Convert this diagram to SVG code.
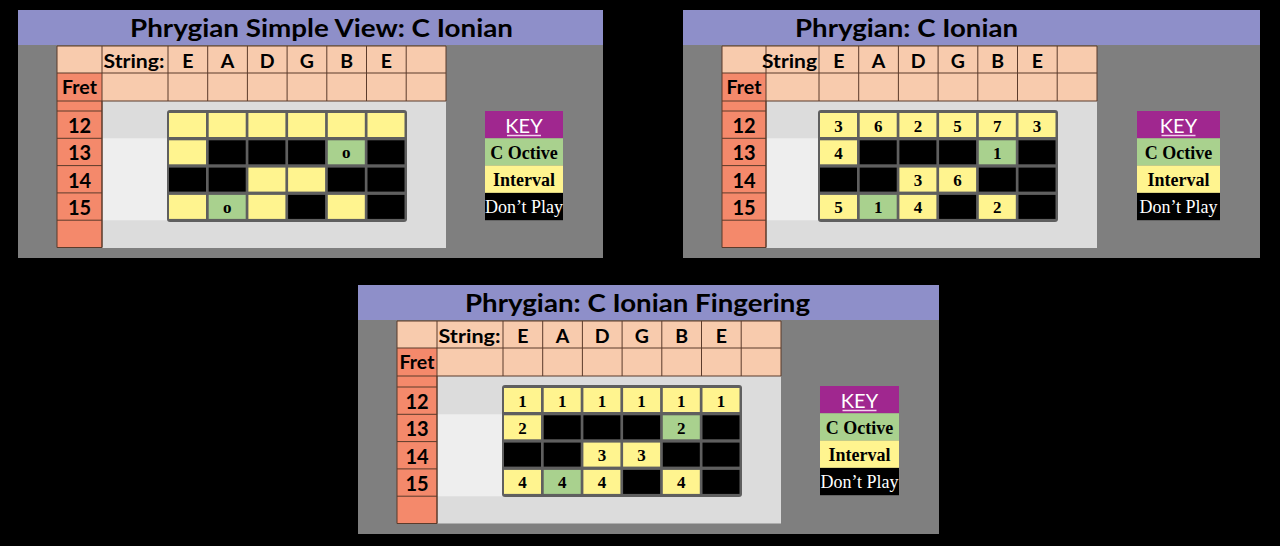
<svg xmlns="http://www.w3.org/2000/svg" width="1280" height="546" viewBox="0 0 1280 546">
<style>
.panel{fill:#7f7f7f}
.ttl{fill:#8e8fc9}
.hdr{fill:#f8cbad}
.fret{fill:#f4896b}
.lg{fill:#dcdcdc}
.band{fill:#eeeeee}
.ln{fill:none;stroke:#5b3b2b;stroke-width:1}
.frame{fill:#5f5f5f}
.y{fill:#fff48f}
.g{fill:#a9d18e}
.k{fill:#000}
.kp{fill:#a0278f}
.tt{font-family:Lato,"Liberation Sans",sans-serif;font-weight:bold;font-size:24px;fill:#000;text-anchor:middle}
.h{font-family:Lato,"Liberation Sans",sans-serif;font-weight:bold;font-size:19.5px;fill:#000;text-anchor:middle}
.n{font-family:Lato,"Liberation Sans",sans-serif;font-weight:bold;font-size:20px;fill:#000;text-anchor:middle}
.c{font-family:"Liberation Serif",serif;font-weight:bold;font-size:17px;fill:#000;text-anchor:middle}
.ks{font-family:"Liberation Serif",serif;font-weight:bold;font-size:18px;fill:#000;text-anchor:middle}
.kw{font-family:"Liberation Serif",serif;font-size:18px;fill:#fff;text-anchor:middle}
.kk{font-family:Lato,"Liberation Sans",sans-serif;font-size:20px;fill:#fff;text-anchor:middle}
.ul{stroke:#f4d0ee;stroke-width:1.5}
</style>
<rect width="1280" height="546" fill="#000"/>

<!-- Panel 1 -->
<g id="panel1">
<rect class="panel" x="18" y="10" width="585" height="248"/>
<rect class="ttl" x="18" y="10" width="585" height="35"/>
<text class="tt" x="321.5" y="37" textLength="383" lengthAdjust="spacingAndGlyphs">Phrygian Simple View: C Ionian</text>
<rect class="hdr" x="57" y="46" width="389" height="55"/>
<rect class="fret" x="57" y="73" width="45" height="28"/>
<rect class="fret" x="57" y="101" width="45" height="147"/>
<rect class="lg" x="102" y="101" width="344" height="147"/>
<rect class="band" x="102" y="138.3" width="65" height="82"/>
<path class="ln" d="M57,46H446V101H57Z M57,73H446 M57,101V247.5H102V101 M102,46V247.5 M168,46V101 M207.7,46V101 M247.4,46V101 M287.1,46V101 M326.8,46V101 M366.5,46V101 M406.2,46V101 M57,111H102 M57,138.3H102 M57,165.6H102 M57,192.9H102 M57,220.2H102"/>
<text class="h" x="134" y="68" textLength="61" lengthAdjust="spacingAndGlyphs">String:</text>
<text class="h" x="187.85" y="68">E</text>
<text class="h" x="227.55" y="68">A</text>
<text class="h" x="267.25" y="68">D</text>
<text class="h" x="306.95" y="68">G</text>
<text class="h" x="346.65" y="68">B</text>
<text class="h" x="386.35" y="68">E</text>
<text class="h" x="79.5" y="94">Fret</text>
<text class="n" x="79.5" y="133">12</text>
<text class="n" x="79.5" y="160.3">13</text>
<text class="n" x="79.5" y="187.6">14</text>
<text class="n" x="79.5" y="214.9">15</text>
<rect class="frame" x="167" y="110" width="240" height="112" rx="3"/>
<rect class="y" x="169" y="113" width="37" height="24"/>
<rect class="y" x="208.7" y="113" width="37" height="24"/>
<rect class="y" x="248.4" y="113" width="37" height="24"/>
<rect class="y" x="288.1" y="113" width="37" height="24"/>
<rect class="y" x="327.8" y="113" width="37" height="24"/>
<rect class="y" x="367.5" y="113" width="37" height="24"/>
<rect class="y" x="169" y="140.3" width="37" height="24"/>
<rect class="k" x="208.7" y="140.3" width="37" height="24"/>
<rect class="k" x="248.4" y="140.3" width="37" height="24"/>
<rect class="k" x="288.1" y="140.3" width="37" height="24"/>
<rect class="g" x="327.8" y="140.3" width="37" height="24"/>
<rect class="k" x="367.5" y="140.3" width="37" height="24"/>
<rect class="k" x="169" y="167.6" width="37" height="24"/>
<rect class="k" x="208.7" y="167.6" width="37" height="24"/>
<rect class="y" x="248.4" y="167.6" width="37" height="24"/>
<rect class="y" x="288.1" y="167.6" width="37" height="24"/>
<rect class="k" x="327.8" y="167.6" width="37" height="24"/>
<rect class="k" x="367.5" y="167.6" width="37" height="24"/>
<rect class="y" x="169" y="194.9" width="37" height="24"/>
<rect class="g" x="208.7" y="194.9" width="37" height="24"/>
<rect class="y" x="248.4" y="194.9" width="37" height="24"/>
<rect class="k" x="288.1" y="194.9" width="37" height="24"/>
<rect class="y" x="327.8" y="194.9" width="37" height="24"/>
<rect class="k" x="367.5" y="194.9" width="37" height="24"/>
<text class="c" x="346.3" y="158">o</text>
<text class="c" x="227.2" y="212.6">o</text>
</g>
<g id="key1">
<rect class="kp" x="485" y="111" width="78" height="27.3"/>
<rect class="g" x="485" y="138.3" width="78" height="27.3"/>
<rect class="y" x="485" y="165.6" width="78" height="27.3"/>
<rect class="k" x="485" y="192.9" width="78" height="27.3"/>
<text class="kk" x="524" y="133">KEY</text>
<line class="ul" x1="507" y1="135.5" x2="541" y2="135.5"/>
<text class="ks" x="524" y="159">C Octive</text>
<text class="ks" x="524" y="186">Interval</text>
<text class="kw" x="524" y="212.5">Don’t Play</text>
</g>

<!-- Panel 2 -->
<g id="panel2">
<rect class="panel" x="683" y="10" width="577" height="248"/>
<rect class="ttl" x="683" y="10" width="577" height="35"/>
<text class="tt" x="906.5" y="37" textLength="223" lengthAdjust="spacingAndGlyphs">Phrygian: C Ionian</text>
<rect class="hdr" x="722" y="46" width="375" height="55"/>
<rect class="fret" x="722" y="73" width="44" height="28"/>
<rect class="fret" x="722" y="101" width="44" height="147"/>
<rect class="lg" x="766" y="101" width="331" height="147"/>
<rect class="band" x="766" y="138.3" width="52" height="82"/>
<path class="ln" d="M722,46H1097V101H722Z M722,73H1097 M722,101V247.5H766V101 M766,46V247.5 M819,46V101 M858.7,46V101 M898.4,46V101 M938.1,46V101 M977.8,46V101 M1017.5,46V101 M1057.2,46V101 M722,111H766 M722,138.3H766 M722,165.6H766 M722,192.9H766 M722,220.2H766"/>
<text class="h" x="817" y="68" style="text-anchor:end" textLength="55" lengthAdjust="spacingAndGlyphs">String</text>
<text class="h" x="838.85" y="68">E</text>
<text class="h" x="878.55" y="68">A</text>
<text class="h" x="918.25" y="68">D</text>
<text class="h" x="957.95" y="68">G</text>
<text class="h" x="997.65" y="68">B</text>
<text class="h" x="1037.35" y="68">E</text>
<text class="h" x="744" y="94">Fret</text>
<text class="n" x="744" y="133">12</text>
<text class="n" x="744" y="160.3">13</text>
<text class="n" x="744" y="187.6">14</text>
<text class="n" x="744" y="214.9">15</text>
<rect class="frame" x="818" y="110" width="240" height="112" rx="3"/>
<rect class="y" x="820" y="113" width="37" height="24"/>
<rect class="y" x="859.7" y="113" width="37" height="24"/>
<rect class="y" x="899.4" y="113" width="37" height="24"/>
<rect class="y" x="939.1" y="113" width="37" height="24"/>
<rect class="y" x="978.8" y="113" width="37" height="24"/>
<rect class="y" x="1018.5" y="113" width="37" height="24"/>
<rect class="y" x="820" y="140.3" width="37" height="24"/>
<rect class="k" x="859.7" y="140.3" width="37" height="24"/>
<rect class="k" x="899.4" y="140.3" width="37" height="24"/>
<rect class="k" x="939.1" y="140.3" width="37" height="24"/>
<rect class="g" x="978.8" y="140.3" width="37" height="24"/>
<rect class="k" x="1018.5" y="140.3" width="37" height="24"/>
<rect class="k" x="820" y="167.6" width="37" height="24"/>
<rect class="k" x="859.7" y="167.6" width="37" height="24"/>
<rect class="y" x="899.4" y="167.6" width="37" height="24"/>
<rect class="y" x="939.1" y="167.6" width="37" height="24"/>
<rect class="k" x="978.8" y="167.6" width="37" height="24"/>
<rect class="k" x="1018.5" y="167.6" width="37" height="24"/>
<rect class="y" x="820" y="194.9" width="37" height="24"/>
<rect class="g" x="859.7" y="194.9" width="37" height="24"/>
<rect class="y" x="899.4" y="194.9" width="37" height="24"/>
<rect class="k" x="939.1" y="194.9" width="37" height="24"/>
<rect class="y" x="978.8" y="194.9" width="37" height="24"/>
<rect class="k" x="1018.5" y="194.9" width="37" height="24"/>
<text class="c" x="838.5" y="131.5">3</text>
<text class="c" x="878.2" y="131.5">6</text>
<text class="c" x="917.9" y="131.5">2</text>
<text class="c" x="957.6" y="131.5">5</text>
<text class="c" x="997.3" y="131.5">7</text>
<text class="c" x="1037" y="131.5">3</text>
<text class="c" x="838.5" y="158.8">4</text>
<text class="c" x="997.3" y="158.8">1</text>
<text class="c" x="917.9" y="186.1">3</text>
<text class="c" x="957.6" y="186.1">6</text>
<text class="c" x="838.5" y="213.4">5</text>
<text class="c" x="878.2" y="213.4">1</text>
<text class="c" x="917.9" y="213.4">4</text>
<text class="c" x="997.3" y="213.4">2</text>
</g>
<g id="key2">
<rect class="kp" x="1137" y="111" width="83" height="27.3"/>
<rect class="g" x="1137" y="138.3" width="83" height="27.3"/>
<rect class="y" x="1137" y="165.6" width="83" height="27.3"/>
<rect class="k" x="1137" y="192.9" width="83" height="27.3"/>
<text class="kk" x="1178.5" y="133">KEY</text>
<line class="ul" x1="1161.5" y1="135.5" x2="1195.5" y2="135.5"/>
<text class="ks" x="1178.5" y="159">C Octive</text>
<text class="ks" x="1178.5" y="186">Interval</text>
<text class="kw" x="1178.5" y="212.5">Don’t Play</text>
</g>

<!-- Panel 3 -->
<g id="panel3">
<rect class="panel" x="358" y="285" width="581" height="249"/>
<rect class="ttl" x="358" y="285" width="581" height="35"/>
<text class="tt" x="637.5" y="312" textLength="345" lengthAdjust="spacingAndGlyphs">Phrygian: C Ionian Fingering</text>
<rect class="hdr" x="397" y="321" width="384" height="55"/>
<rect class="fret" x="397" y="348" width="40" height="28"/>
<rect class="fret" x="397" y="376" width="40" height="147.5"/>
<rect class="lg" x="437" y="376" width="344" height="147.5"/>
<rect class="band" x="437" y="414.3" width="65" height="82"/>
<path class="ln" d="M397,321H781V376H397Z M397,348H781 M397,376V523.5H437V376 M437,321V523.5 M503,321V376 M542.7,321V376 M582.4,321V376 M622.1,321V376 M661.8,321V376 M701.5,321V376 M741.2,321V376 M397,387H437 M397,414.3H437 M397,441.6H437 M397,468.9H437 M397,496.2H437"/>
<text class="h" x="469.5" y="343" textLength="62" lengthAdjust="spacingAndGlyphs">String:</text>
<text class="h" x="522.85" y="343">E</text>
<text class="h" x="562.55" y="343">A</text>
<text class="h" x="602.25" y="343">D</text>
<text class="h" x="641.95" y="343">G</text>
<text class="h" x="681.65" y="343">B</text>
<text class="h" x="721.35" y="343">E</text>
<text class="h" x="417" y="369">Fret</text>
<text class="n" x="417" y="409">12</text>
<text class="n" x="417" y="436.3">13</text>
<text class="n" x="417" y="463.6">14</text>
<text class="n" x="417" y="490.9">15</text>
<rect class="frame" x="502" y="385" width="240" height="112" rx="3"/>
<rect class="y" x="504" y="388" width="37" height="24"/>
<rect class="y" x="543.7" y="388" width="37" height="24"/>
<rect class="y" x="583.4" y="388" width="37" height="24"/>
<rect class="y" x="623.1" y="388" width="37" height="24"/>
<rect class="y" x="662.8" y="388" width="37" height="24"/>
<rect class="y" x="702.5" y="388" width="37" height="24"/>
<rect class="y" x="504" y="415.3" width="37" height="24"/>
<rect class="k" x="543.7" y="415.3" width="37" height="24"/>
<rect class="k" x="583.4" y="415.3" width="37" height="24"/>
<rect class="k" x="623.1" y="415.3" width="37" height="24"/>
<rect class="g" x="662.8" y="415.3" width="37" height="24"/>
<rect class="k" x="702.5" y="415.3" width="37" height="24"/>
<rect class="k" x="504" y="442.6" width="37" height="24"/>
<rect class="k" x="543.7" y="442.6" width="37" height="24"/>
<rect class="y" x="583.4" y="442.6" width="37" height="24"/>
<rect class="y" x="623.1" y="442.6" width="37" height="24"/>
<rect class="k" x="662.8" y="442.6" width="37" height="24"/>
<rect class="k" x="702.5" y="442.6" width="37" height="24"/>
<rect class="y" x="504" y="469.9" width="37" height="24"/>
<rect class="g" x="543.7" y="469.9" width="37" height="24"/>
<rect class="y" x="583.4" y="469.9" width="37" height="24"/>
<rect class="k" x="623.1" y="469.9" width="37" height="24"/>
<rect class="y" x="662.8" y="469.9" width="37" height="24"/>
<rect class="k" x="702.5" y="469.9" width="37" height="24"/>
<text class="c" x="522.5" y="406.5">1</text>
<text class="c" x="562.2" y="406.5">1</text>
<text class="c" x="601.9" y="406.5">1</text>
<text class="c" x="641.6" y="406.5">1</text>
<text class="c" x="681.3" y="406.5">1</text>
<text class="c" x="721" y="406.5">1</text>
<text class="c" x="522.5" y="433.8">2</text>
<text class="c" x="681.3" y="433.8">2</text>
<text class="c" x="601.9" y="461.1">3</text>
<text class="c" x="641.6" y="461.1">3</text>
<text class="c" x="522.5" y="488.4">4</text>
<text class="c" x="562.2" y="488.4">4</text>
<text class="c" x="601.9" y="488.4">4</text>
<text class="c" x="681.3" y="488.4">4</text>
</g>
<g id="key3">
<rect class="kp" x="820" y="386" width="79" height="27.3"/>
<rect class="g" x="820" y="413.3" width="79" height="27.3"/>
<rect class="y" x="820" y="440.6" width="79" height="27.3"/>
<rect class="k" x="820" y="467.9" width="79" height="27.3"/>
<text class="kk" x="859.5" y="408">KEY</text>
<line class="ul" x1="842.5" y1="410.5" x2="876.5" y2="410.5"/>
<text class="ks" x="859.5" y="434">C Octive</text>
<text class="ks" x="859.5" y="461">Interval</text>
<text class="kw" x="859.5" y="487.5">Don’t Play</text>
</g>
</svg>
